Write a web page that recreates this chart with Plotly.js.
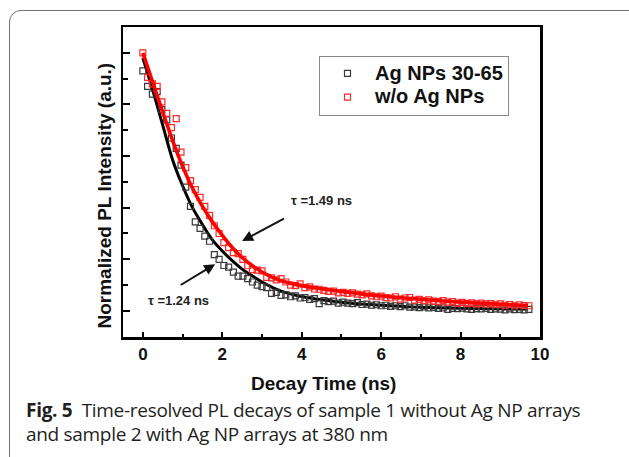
<!DOCTYPE html>
<html>
<head>
<meta charset="utf-8">
<script src="https://cdn.plot.ly/plotly-3.0.1.min.js"></script>
<style>
  html, body { margin: 0; padding: 0; width: 629px; height: 457px; overflow: hidden; background: #fff; }
  #panel { position: absolute; left: 9px; top: 10px; width: 700px; height: 520px; border: 1.5px solid #707070; border-radius: 12px; pointer-events: none; }
  #chart { position: absolute; left: 0; top: 0; width: 629px; height: 457px; }
  #caption { position: absolute; left: 26px; top: 397.5px; font-family: "Open Sans", sans-serif; font-size: 19px; line-height: 24.5px; color: #231f20; letter-spacing: -0.3px; white-space: nowrap; }
  #caption b { font-weight: 700; }
</style>
</head>
<body>
<div id="chart"></div>
<div id="panel"></div>
<div id="caption"><b>Fig. 5</b>&nbsp; Time-resolved PL decays of sample 1 without Ag NP arrays<br>and sample 2 with Ag NP arrays at 380 nm</div>
<script>
// ---- data ----
const times = [0.00,0.12,0.24,0.36,0.48,0.60,0.72,0.84,0.96,1.08,1.20,1.32,1.44,1.56,1.68,1.80,1.92,2.04,2.16,2.28,
  2.40,2.52,2.64,2.76,2.88,3.00,3.12,3.24,3.36,3.48,3.60,3.72,3.84,3.96,4.08,4.20,4.32,4.44,4.56,4.68,
  4.80,4.92,5.04,5.16,5.28,5.40,5.52,5.64,5.76,5.88,6.00,6.12,6.24,6.36,6.48,6.60,6.72,6.84,6.96,7.08,
  7.20,7.32,7.44,7.56,7.68,7.80,7.92,8.04,8.16,8.28,8.40,8.52,8.64,8.76,8.88,9.00,9.12,9.24,9.36,9.48,
  9.60,9.72];
const agNPs = [0.93,0.87,0.84,0.85,0.78,0.74,0.67,0.63,0.565,0.48,0.405,0.345,0.32,0.29,0.27,0.218,0.20,0.176,0.17,0.15,
  0.135,0.135,0.125,0.112,0.10,0.094,0.09,0.068,0.072,0.06,0.062,0.055,0.058,0.05,0.052,0.045,0.048,0.028,0.04,0.036,
  0.038,0.03,0.034,0.03,0.028,0.032,0.025,0.026,0.022,0.024,0.02,0.022,0.018,0.02,0.017,0.02,0.015,0.016,0.013,0.016,
  0.012,0.014,0.01,0.012,0.006,0.01,0.009,0.011,0.008,0.006,0.009,0.008,0.01,0.006,0.008,0.007,0.004,0.008,0.005,0.006,
  0.004,0.006];
const woAgNPs = [1.00,0.905,0.88,0.87,0.81,0.765,0.71,0.745,0.615,0.555,0.505,0.47,0.44,0.405,0.37,0.33,0.30,0.265,0.245,0.226,
  0.222,0.20,0.175,0.16,0.158,0.155,0.13,0.128,0.12,0.125,0.112,0.10,0.098,0.105,0.09,0.093,0.085,0.084,0.08,0.076,
  0.077,0.07,0.072,0.068,0.07,0.065,0.062,0.066,0.058,0.055,0.057,0.052,0.05,0.055,0.046,0.05,0.052,0.042,0.045,0.04,
  0.043,0.038,0.036,0.04,0.034,0.036,0.03,0.033,0.028,0.031,0.027,0.03,0.026,0.028,0.024,0.027,0.022,0.025,0.02,0.024,
  0.021,0.02];

// fitted decay curves
const fitTimes = [0,0.25,0.5,0.75,1.0,1.25,1.5,1.75,2.0,2.25,2.5,2.75,3.0,3.25,3.5,4.0,4.5,5.0,5.5,6.0,6.5,7.0,8.0,9.0,9.7];
const fitAgNPs = [0.98,0.855,0.72,0.585,0.485,0.40,0.335,0.275,0.232,0.195,0.162,0.136,0.112,0.092,0.076,0.056,0.043,0.034,0.027,0.022,0.018,0.014,0.010,0.008,0.007];
const fitWoAgNPs = [1.0,0.885,0.77,0.66,0.56,0.475,0.405,0.345,0.293,0.246,0.207,0.176,0.151,0.131,0.116,0.098,0.086,0.075,0.066,0.058,0.051,0.045,0.034,0.026,0.021];

const seriesNames = ['Ag NPs 30-65', 'w/o Ag NPs'];
const xTickVals = [0,2,4,6,8,10];
const xTickText = ['0','2','4','6','8','10'];
const tauLabels = ['\u03C4 =1.49 ns', '\u03C4 =1.24 ns'];

const FONT = 'Liberation Sans, Arial, sans-serif';

const traces = [
  {x: fitTimes, y: fitAgNPs, mode: 'lines', line: {color: '#000', width: 3, shape: 'spline'}, showlegend: false, hoverinfo: 'skip'},
  {x: times, y: agNPs, mode: 'markers', name: '<span style="font-size:20px">' + seriesNames[0] + '</span>',
   marker: {symbol: 'square-open', size: 6, color: '#3a3a3a', line: {width: 1.2}}},
  {x: times, y: woAgNPs, mode: 'markers', name: '<span style="font-size:20px">' + seriesNames[1] + '</span>',
   marker: {symbol: 'square-open', size: 6, color: '#ff2a2a', line: {width: 1.2}}},
  {x: fitTimes, y: fitWoAgNPs, mode: 'lines', line: {color: '#ff0000', width: 3.6, shape: 'spline'}, showlegend: false, hoverinfo: 'skip'}
];

const layout = {
  width: 629, height: 457,
  margin: {l: 123, r: 89, t: 27, b: 120, pad: 0},
  paper_bgcolor: 'rgba(0,0,0,0)', plot_bgcolor: '#fff',
  font: {family: FONT, color: '#111'},
  showlegend: true,
  legend: {x: (319 - 123) / 417, y: (337 - 55.5) / 310, xanchor: 'left', yanchor: 'top', bgcolor: '#fff', bordercolor: '#8a8a8a', borderwidth: 1,
           font: {family: FONT, size: 16, weight: 'bold', color: '#111'}, itemwidth: 45, tracegroupgap: 0},
  xaxis: {range: [-0.5, 10], showgrid: false, zeroline: false, showline: true, linecolor: '#000', linewidth: 2.5, mirror: true,
          tickmode: 'array', tickvals: xTickVals, ticktext: xTickText, ticks: 'inside', ticklen: 5, tickwidth: 2, tickcolor: '#000',
          tickfont: {family: FONT, size: 17, weight: 'bold', color: '#111'},
          minor: {dtick: 1, tick0: 1, ticks: 'inside', ticklen: 3, tickwidth: 2, tickcolor: '#000'}},
  yaxis: {range: [-0.101, 1.1], showgrid: false, zeroline: false, showline: true, linecolor: '#000', linewidth: 2.5, mirror: true,
          dtick: 0.2, tick0: 0, showticklabels: false, ticks: 'inside', ticklen: 7, tickwidth: 2, tickcolor: '#000',
          minor: {dtick: 0.1, tick0: 0, ticks: 'inside', ticklen: 5, tickwidth: 2, tickcolor: '#000'}},
  annotations: [
    {xref: 'paper', yref: 'paper', x: (323 - 123) / 417, y: (337 - 383) / 310, text: 'Decay Time (ns)', showarrow: false,
     font: {family: FONT, size: 19, weight: 'bold', color: '#111'}, xanchor: 'center', yanchor: 'middle'},
    {xref: 'paper', yref: 'paper', x: (104 - 123) / 417, y: (337 - 195.5) / 310, text: 'Normalized PL Intensity (a.u.)', showarrow: false,
     textangle: -90, font: {family: FONT, size: 19, weight: 'bold', color: '#111'}, xanchor: 'center', yanchor: 'middle'},
    {x: 4.5, y: 0.428, text: tauLabels[0], showarrow: false, font: {family: FONT, size: 13, weight: 'bold', color: '#222'}},
    {x: 0.89, y: 0.039, text: tauLabels[1], showarrow: false, font: {family: FONT, size: 13, weight: 'bold', color: '#222'}},
    {x: 2.5, y: 0.271, ax: 3.59, ay: 0.361, axref: 'x', ayref: 'y', text: '', showarrow: true, arrowhead: 2, arrowsize: 1.1, arrowwidth: 2, arrowcolor: '#111'},
    {x: 1.82, y: 0.181, ax: 0.915, ay: 0.097, axref: 'x', ayref: 'y', text: '', showarrow: true, arrowhead: 2, arrowsize: 1.1, arrowwidth: 2, arrowcolor: '#111'}
  ]
};

Plotly.newPlot('chart', traces, layout, {staticPlot: true, displayModeBar: false});
</script>
</body>
</html>
